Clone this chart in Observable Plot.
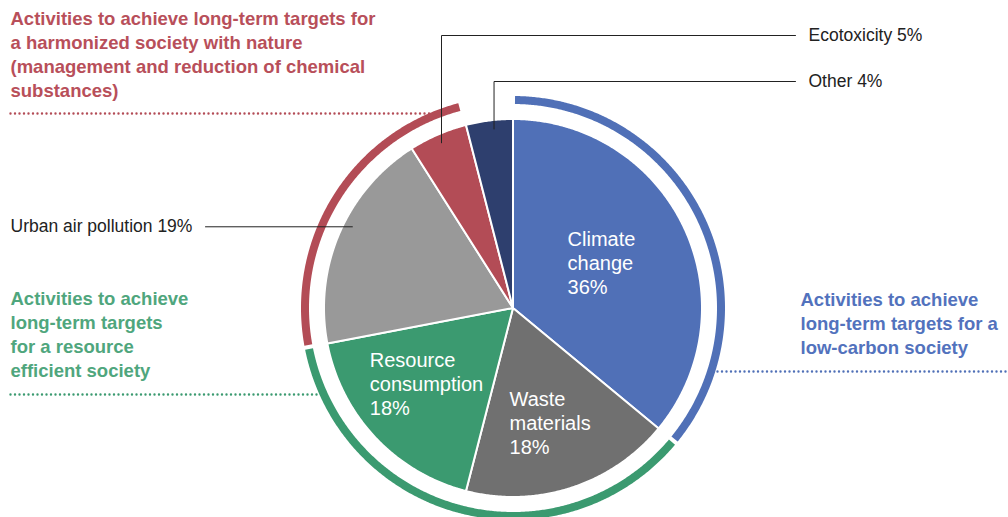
<!DOCTYPE html>
<html><head><meta charset="utf-8">
<script src="https://cdn.jsdelivr.net/npm/d3@7"></script>
<script src="https://cdn.jsdelivr.net/npm/@observablehq/plot@0.6"></script>
<style>
html,body{margin:0;padding:0;background:#fff;}
#chart svg{display:block}
</style>
</head><body><div id="chart"></div>
<script>
// ---- data ----
const categories = ["Climate change", "Waste materials", "Resource consumption", "Urban air pollution", "Ecotoxicity", "Other"];
const shares = [36, 18, 18, 19, 5, 4];
const sliceColors = ["#5070b7", "#707070", "#3b9a70", "#999999", "#b34c56", "#2e3f6e"];
const insideLabels = ["Climate\nchange\n36%", "Waste\nmaterials\n18%", "Resource\nconsumption\n18%", "", "", ""];
const calloutLabels = ["", "", "", "Urban air pollution 19%", "Ecotoxicity 5%", "Other 4%"];
const groupTitles = [
  "Activities to achieve\nlong-term targets for a\nlow-carbon society",
  "Activities to achieve\nlong-term targets\nfor a resource\nefficient society",
  "Activities to achieve long-term targets for\na harmonized society with nature\n(management and reduction of chemical\nsubstances)"
];
const groupMembers = [["Climate change"], ["Waste materials", "Resource consumption"], ["Urban air pollution", "Ecotoxicity"]];
const groupColors = ["#5070b7", "#3b9a70", "#b34c56"];
const groupTextColors = ["#5272bd", "#4fa67d", "#b84f5a"];

// ---- layout ----
const W = 1008, H = 517;
const CX = 512.5, CY = 307.5, R = 189, RING = 208, RING_W = 8, HALF_GAP = 0.55;
const FONT = "'Liberation Sans', Arial, Helvetica, sans-serif";
const labelRadius = [99.5, 120, 115];
const labelAngleShift = [-2, 0, 2];
const calloutFrac = {"Urban air pollution": 0.55, "Ecotoxicity": 0.5, "Other": 0.58};
const calloutR = 180;
const calloutLayout = {
  "Urban air pollution": {elbowY: null, endX: 205, textX: 10},
  "Ecotoxicity": {elbowY: 35, endX: 795, textX: 808},
  "Other": {elbowY: 81, endX: 795, textX: 808}
};
const groupTextPos = [{x: 800, base: 306}, {x: 10, base: 305}, {x: 10, base: 25}];
const dottedLayout = [{y: 371, x1: 717, x2: 1006}, {y: 394, x1: 10, x2: 318}, {y: 113, x1: 10, x2: 430}];

const rad = d => d * Math.PI / 180;
const polar = (r, deg) => [CX + r * Math.sin(rad(deg)), CY - r * Math.cos(rad(deg))];

const total = d3.sum(shares);
let cum = 0;
const slices = categories.map((name, i) => {
  const a0 = cum / total * 360; cum += shares[i]; const a1 = cum / total * 360;
  return {name, a0, a1, mid: (a0 + a1) / 2, i};
});
const byName = Object.fromEntries(slices.map(s => [s.name, s]));

function arcPoints(r, a0, a1) {
  const n = Math.max(2, Math.ceil((a1 - a0) / 0.4));
  return d3.range(n + 1).map(k => polar(r, a0 + (a1 - a0) * k / n));
}

// slice polygons
const slicePts = [];
for (const s of slices) {
  const pts = [[CX, CY], ...arcPoints(R, s.a0, s.a1), [CX, CY]];
  for (const [x, y] of pts) slicePts.push({name: s.name, x, y});
}

// ring arcs
const groupNames = groupTitles.map((t, i) => "group" + i);
const ringPts = [];
groupMembers.forEach((members, gi) => {
  const a0 = d3.min(members, m => byName[m].a0) + HALF_GAP;
  const a1 = d3.max(members, m => byName[m].a1) - HALF_GAP;
  for (const [x, y] of arcPoints(RING, a0, a1)) ringPts.push({name: groupNames[gi], x, y});
});

// inside labels
const ctx = document.createElement("canvas").getContext("2d");
ctx.font = `20px ${FONT}`;
const insideData = slices.filter(s => insideLabels[s.i]).map(s => {
  const [x, y] = polar(labelRadius[s.i], s.mid + labelAngleShift[s.i]);
  const w = d3.max(insideLabels[s.i].split("\n"), l => ctx.measureText(l).width);
  return {x: x - w / 2, y, text: insideLabels[s.i]};
});

// callouts
const leaderPts = [];
const calloutText = [];
slices.filter(s => calloutLabels[s.i]).forEach(s => {
  const L = calloutLayout[s.name];
  const ang = s.a0 + (s.a1 - s.a0) * calloutFrac[s.name];
  const [ax, ay] = polar(calloutR, ang);
  let pts, ty;
  if (L.elbowY == null) { pts = [[ax, ay], [L.endX, ay]]; ty = ay; }
  else { pts = [[ax, ay], [ax, L.elbowY], [L.endX, L.elbowY]]; ty = L.elbowY; }
  for (const [x, y] of pts) leaderPts.push({name: s.name, x, y});
  calloutText.push({x: L.textX, y: ty, text: calloutLabels[s.i]});
});

// group titles
const GFS = 18.5, GLH = 24 / GFS;
const groupText = groupTitles.map((t, i) => ({
  x: groupTextPos[i].x, y: groupTextPos[i].base - 0.71 * GLH * GFS, text: t, name: groupNames[i]
}));
const dotted = dottedLayout.map((d, i) => ({...d, name: groupNames[i]}));

const colorDomain = [...categories, ...groupNames];
const colorRange = [...sliceColors, ...groupColors];
const textColorScale = Object.fromEntries(groupNames.map((g, i) => [g, groupTextColors[i]]));

const chart = Plot.plot({
  width: W, height: H,
  margin: 0,
  x: {domain: [0, W], range: [0, W], axis: null},
  y: {domain: [0, H], range: [0, H], axis: null},
  color: {domain: colorDomain, range: colorRange},
  style: {fontFamily: FONT, background: "#fff", overflow: "visible"},
  marks: [
    Plot.line(slicePts, {x: "x", y: "y", z: "name", fill: "name", stroke: "#fff", strokeWidth: 2, strokeLinejoin: "round", curve: "linear"}),
    Plot.line(ringPts, {x: "x", y: "y", z: "name", stroke: "name", strokeWidth: RING_W, strokeLinecap: "butt", curve: "linear"}),
    Plot.link(dotted, {x1: "x1", x2: "x2", y1: "y", y2: "y", stroke: "name", strokeWidth: 2.4, strokeLinecap: "round", strokeDasharray: "0,4.5"}),
    Plot.line(leaderPts, {x: "x", y: "y", z: "name", stroke: "#222", strokeWidth: 1, curve: "linear"}),
    Plot.text(insideData, {x: "x", y: "y", text: "text", textAnchor: "start", lineAnchor: "middle", lineHeight: 1.2, fontSize: 20, fill: "#fff"}),
    Plot.text(calloutText, {x: "x", y: "y", text: "text", textAnchor: "start", lineAnchor: "middle", fontSize: 17.5, fill: "#222"}),
    Plot.text(groupText, {x: "x", y: "y", text: "text", textAnchor: "start", lineAnchor: "top", lineHeight: GLH, fontSize: GFS, fontWeight: "bold", fill: d => textColorScale[d.name]})
  ]
});
document.getElementById("chart").appendChild(chart);
</script>
</body></html>
